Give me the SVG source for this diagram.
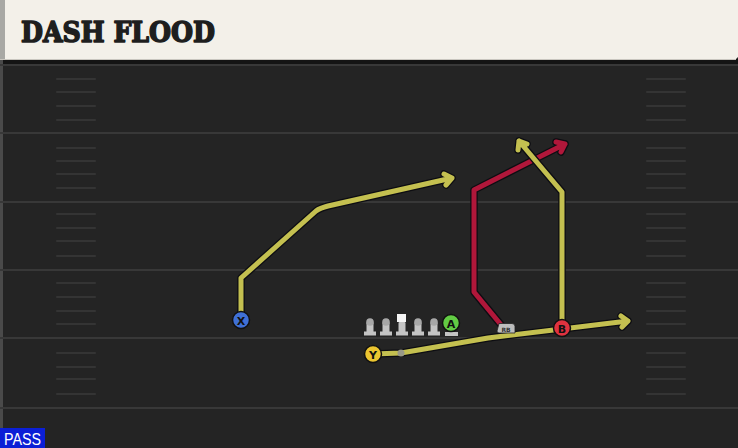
<svg xmlns="http://www.w3.org/2000/svg" width="738" height="448" viewBox="0 0 738 448">
<defs>
<style>
.yard{stroke:#383838;stroke-width:2}
.hash{stroke:#343434;stroke-width:2;stroke-linecap:round}
.outline{fill:none;stroke:#0d0d12;stroke-width:7.5;stroke-linejoin:round;stroke-linecap:round}
.ry{fill:none;stroke:#c4c050;stroke-width:5;stroke-linejoin:round;stroke-linecap:round}
.rr{fill:none;stroke:#b0173a;stroke-width:5;stroke-linejoin:round;stroke-linecap:round}
.pl{stroke:#111;stroke-width:1.5}
.lbl{font-family:"DejaVu Sans","Liberation Sans",sans-serif;font-weight:bold;font-size:11px;fill:#111;text-anchor:middle}
.ol{fill:#c4c4c4}
.oh{fill:#a8a8a8}
</style>
</defs>
<rect width="738" height="448" fill="#242424"/>
<rect x="0" y="59" width="738" height="6" fill="#141414"/>
<rect x="0" y="60" width="3" height="388" fill="#4a4a4a"/>
<g id="field">
<line class="yard" x1="0" y1="65" x2="738" y2="65"/>
<line class="yard" x1="0" y1="133" x2="738" y2="133"/>
<line class="yard" x1="0" y1="202" x2="738" y2="202"/>
<line class="yard" x1="0" y1="270" x2="738" y2="270"/>
<line class="yard" x1="0" y1="338" x2="738" y2="338"/>
<line class="yard" x1="0" y1="408" x2="738" y2="408"/>
<g id="hashL">
<line class="hash" x1="57" y1="79" x2="95" y2="79"/><line class="hash" x1="57" y1="92" x2="95" y2="92"/><line class="hash" x1="57" y1="106" x2="95" y2="106"/><line class="hash" x1="57" y1="120" x2="95" y2="120"/>
<line class="hash" x1="57" y1="148" x2="95" y2="148"/><line class="hash" x1="57" y1="161" x2="95" y2="161"/><line class="hash" x1="57" y1="174" x2="95" y2="174"/><line class="hash" x1="57" y1="188" x2="95" y2="188"/>
<line class="hash" x1="57" y1="214" x2="95" y2="214"/><line class="hash" x1="57" y1="228" x2="95" y2="228"/><line class="hash" x1="57" y1="241" x2="95" y2="241"/><line class="hash" x1="57" y1="256" x2="95" y2="256"/>
<line class="hash" x1="57" y1="283" x2="95" y2="283"/><line class="hash" x1="57" y1="297" x2="95" y2="297"/><line class="hash" x1="57" y1="311" x2="95" y2="311"/><line class="hash" x1="57" y1="324" x2="95" y2="324"/>
<line class="hash" x1="57" y1="353" x2="95" y2="353"/><line class="hash" x1="57" y1="367" x2="95" y2="367"/><line class="hash" x1="57" y1="379" x2="95" y2="379"/><line class="hash" x1="57" y1="394" x2="95" y2="394"/>
</g>
<g id="hashR">
<line class="hash" x1="647" y1="79" x2="685" y2="79"/><line class="hash" x1="647" y1="92" x2="685" y2="92"/><line class="hash" x1="647" y1="106" x2="685" y2="106"/><line class="hash" x1="647" y1="120" x2="685" y2="120"/>
<line class="hash" x1="647" y1="148" x2="685" y2="148"/><line class="hash" x1="647" y1="161" x2="685" y2="161"/><line class="hash" x1="647" y1="174" x2="685" y2="174"/><line class="hash" x1="647" y1="188" x2="685" y2="188"/>
<line class="hash" x1="647" y1="214" x2="685" y2="214"/><line class="hash" x1="647" y1="228" x2="685" y2="228"/><line class="hash" x1="647" y1="241" x2="685" y2="241"/><line class="hash" x1="647" y1="256" x2="685" y2="256"/>
<line class="hash" x1="647" y1="283" x2="685" y2="283"/><line class="hash" x1="647" y1="297" x2="685" y2="297"/><line class="hash" x1="647" y1="311" x2="685" y2="311"/><line class="hash" x1="647" y1="324" x2="685" y2="324"/>
<line class="hash" x1="647" y1="353" x2="685" y2="353"/><line class="hash" x1="647" y1="367" x2="685" y2="367"/><line class="hash" x1="647" y1="379" x2="685" y2="379"/><line class="hash" x1="647" y1="394" x2="685" y2="394"/>
</g>
</g>
<g id="header">
<path d="M0,0 H738 V57 L735,60 H0 Z" fill="#f3f0e9"/>
<rect x="0" y="0" width="5" height="60" fill="#a8a8a4"/>
<line x1="0" y1="59.5" x2="736" y2="59.5" stroke="#c9c6bf" stroke-width="1"/>
<text x="21" y="42" font-family="'DejaVu Serif','Liberation Serif',serif" font-weight="900" font-size="28" fill="#1e1e1e" stroke="#1e1e1e" stroke-width="1.6" stroke-linejoin="round" textLength="194" lengthAdjust="spacingAndGlyphs">DASH FLOOD</text>
</g>
<g id="connectors">
<g id="route-x">
<path class="outline" d="M241,312 V278 L316,211 Q320,208 328,206 L452,178 M444,174 L452,178 L446,185"/>
<path class="ry" d="M241,312 V278 L316,211 Q320,208 328,206 L452,178 M444,174 L452,178 L446,185"/>
</g>
<g id="route-rb">
<path class="outline" d="M502,326 L474,292 V190 L565,144 M556,142 L565,144 L561,152"/>
<path class="rr" d="M502,326 L474,292 V190 L565,144 M556,142 L565,144 L561,152"/>
</g>
<g id="route-b">
<path class="outline" d="M562,322 V192 L519,141 M518,150 L519,141 L527,144"/>
<path class="ry" d="M562,322 V192 L519,141 M518,150 L519,141 L527,144"/>
</g>
<g id="route-y">
<path class="outline" d="M373,354 L401,353 L488,338 L628,321 M621,316 L628,321 L622,327"/>
<path class="ry" d="M373,354 L401,353 L488,338 L628,321 M621,316 L628,321 L622,327"/>
<circle cx="401" cy="353" r="3.5" fill="#9a9a88"/>
</g>
</g>
<g id="line-ol">
<g id="lt"><rect class="ol" x="366.5" y="322" width="7" height="11" rx="1"/><circle class="oh" cx="370" cy="322" r="3.8"/><rect class="ol" x="364" y="331.5" width="12" height="4"/></g>
<g id="lg"><rect class="ol" x="382.5" y="322" width="7" height="11" rx="1"/><circle class="oh" cx="386" cy="322" r="3.8"/><rect class="ol" x="380" y="331.5" width="12" height="4"/></g>
<g id="c"><rect x="397" y="314" width="9" height="8" fill="#f5f5f5"/><rect class="ol" x="398.5" y="322" width="7" height="11" rx="1"/><rect class="ol" x="396" y="331.5" width="12" height="4"/></g>
<g id="rg"><rect class="ol" x="414.5" y="322" width="7" height="11" rx="1"/><circle class="oh" cx="418" cy="322" r="3.8"/><rect class="ol" x="412" y="331.5" width="12" height="4"/></g>
<g id="rt"><rect class="ol" x="430.5" y="322" width="7" height="11" rx="1"/><circle class="oh" cx="434" cy="322" r="3.8"/><rect class="ol" x="428" y="331.5" width="12" height="4"/></g>
</g>
<g id="player-a"><rect class="ol" x="445" y="332" width="13" height="4"/><rect class="ol" x="448.5" y="328" width="5" height="5"/><circle cx="451" cy="323" r="8.5" fill="#62cc44" class="pl"/><text class="lbl" x="451" y="327.5">A</text></g>
<g id="player-x"><circle cx="241" cy="320" r="8.5" fill="#3f70d6" class="pl"/><text class="lbl" x="241" y="324.5">X</text></g>
<g id="player-y"><circle cx="373" cy="354" r="8.5" fill="#ebc530" class="pl"/><text class="lbl" x="373" y="358.5">Y</text></g>
<g id="player-b"><circle cx="562" cy="328" r="8.5" fill="#e0323f" class="pl"/><text class="lbl" x="562" y="332.5">B</text></g>
<g id="player-rb"><path d="M499,323.5 H512 Q515,323.5 515,326.5 V333 H499 Q497,333 497,331 Z" fill="#bdbdbd" stroke="#222" stroke-width="0.8"/><text x="506" y="331.5" font-family="'DejaVu Sans','Liberation Sans',sans-serif" font-size="6" font-weight="bold" fill="#333" text-anchor="middle">RB</text></g>
<g id="pass">
<rect x="0" y="428" width="45" height="20" fill="#0b1fd6"/>
<text x="4" y="445" font-family="'Liberation Sans','DejaVu Sans',sans-serif" font-size="16" fill="#ffffff" textLength="37" lengthAdjust="spacingAndGlyphs">PASS</text>
</g>
</svg>
